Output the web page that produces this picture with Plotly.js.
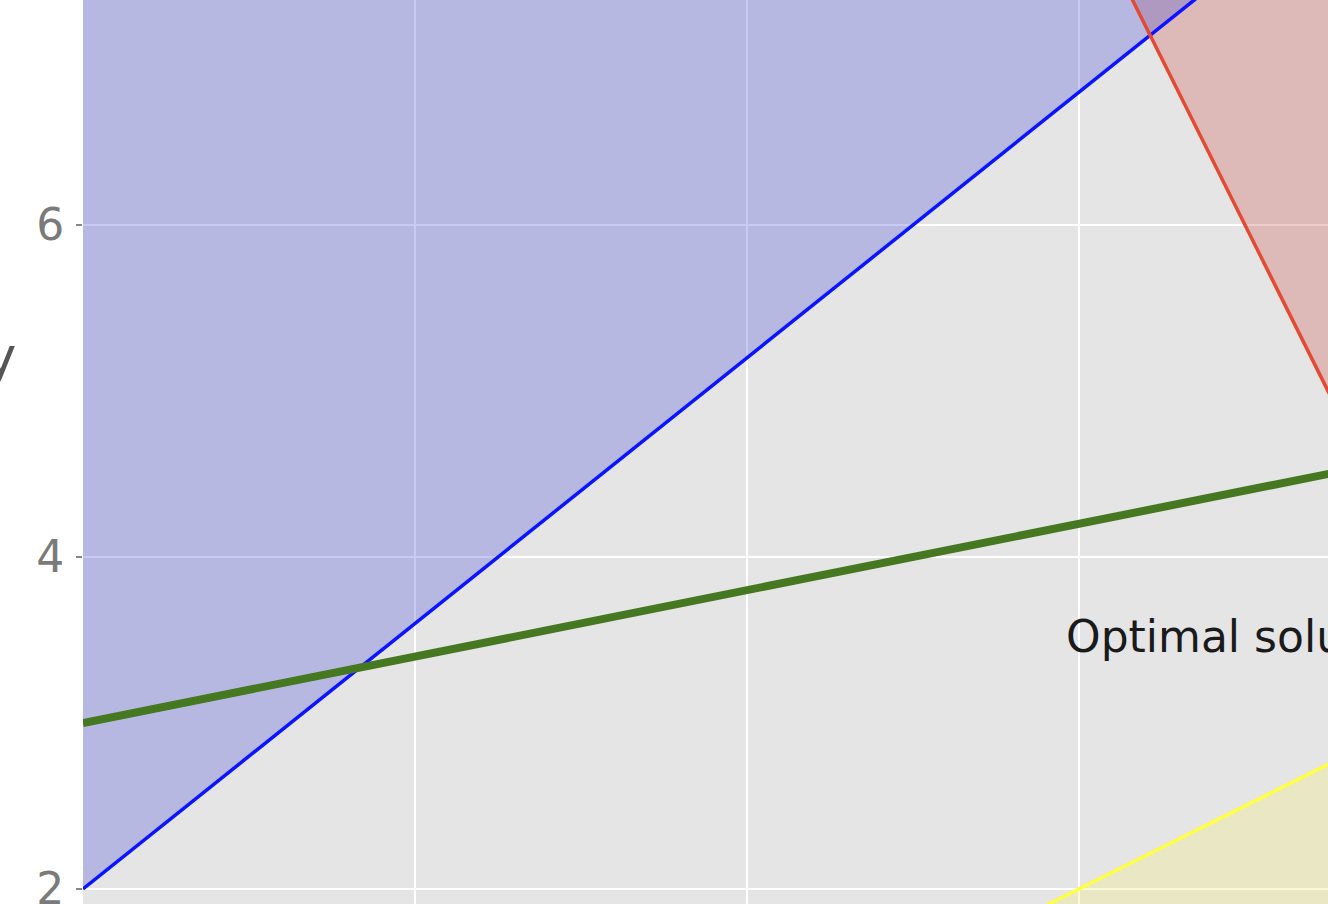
<!DOCTYPE html>
<html>
<head>
<meta charset="utf-8">
<script src="https://cdn.plot.ly/plotly-3.0.1.min.js"></script>
<style>
  html, body { margin: 0; padding: 0; background: #ffffff; }
  #chart { width: 1328px; height: 904px; }
</style>
</head>
<body>
<div id="chart"></div>
<script>
// constraint lines at x = 0 and x = 8
const xEnds = [0, 8];
const blueY = [2, 8.4];
const redY = [20, 4];
const yellowY = [-1, 3];
const greenY = [3, 4.6];
// bounds the shaded regions run to (outside the visible window)
const fillTop = [10, 10];
const fillBottom = [0, 0];

const yTicks = [2, 4, 6];
const xTicks = [0, 2, 4, 6];

const label = { text: 'Optimal solution', x: 5.91, y: 3.52 };

const BG = '#e5e5e5';
const FONT = 'DejaVu Sans, sans-serif';

function edge(y) {
  return {
    type: 'scatter', mode: 'lines', x: xEnds, y: y,
    line: { width: 0 }, hoverinfo: 'skip', showlegend: false
  };
}

function region(y, fillcolor) {
  return {
    type: 'scatter', mode: 'lines', x: xEnds, y: y,
    line: { width: 0 }, fill: 'tonexty', fillcolor: fillcolor,
    hoverinfo: 'skip', showlegend: false
  };
}

function line(y, color, width) {
  return {
    type: 'scatter', mode: 'lines', x: xEnds, y: y,
    line: { color: color, width: width }, showlegend: false
  };
}

const traces = [
  edge(fillTop), region(redY, 'rgba(202,82,76,0.3)'),
  edge(fillTop), region(blueY, 'rgba(72,79,219,0.3)'),
  edge(fillBottom), region(yellowY, 'rgba(246,236,119,0.3)'),
  line(blueY, '#0a14ff', 3.5),
  line(redY, '#e24a33', 3.5),
  line(yellowY, '#ffff44', 3.5),
  line(greenY, '#467821', 8)
];

const layout = {
  width: 1328,
  height: 904,
  margin: { l: 83, r: 0, t: 0, b: 0, pad: 0 },
  paper_bgcolor: '#ffffff',
  plot_bgcolor: BG,
  font: { family: FONT, color: '#555555', size: 44 },
  showlegend: false,
  xaxis: {
    range: [0, 7.5],
    tickvals: xTicks,
    showticklabels: false,
    ticks: '',
    gridcolor: '#ffffff',
    gridwidth: 2,
    zeroline: false,
    showline: false
  },
  yaxis: {
    range: [1.9096, 7.3554],
    tickvals: yTicks,
    ticktext: yTicks.map(String),
    ticks: 'outside',
    ticklen: 6,
    tickwidth: 1.5,
    tickcolor: '#888888',
    ticklabelstandoff: 3,
    ticklabeloverflow: 'allow',
    tickfont: { family: FONT, size: 44, color: '#7a7a7a' },
    gridcolor: '#ffffff',
    gridwidth: 2,
    zeroline: false,
    showline: false
  },
  annotations: [
    {
      text: label.text, x: label.x, y: label.y, xref: 'x', yref: 'y',
      xanchor: 'left', yanchor: 'middle', showarrow: false,
      font: { family: FONT, size: 44, color: '#1a1a1a' }
    },
    {
      text: 'y', x: -83 / 1245, y: 5.21, xref: 'paper', yref: 'y',
      xanchor: 'center', yanchor: 'middle', showarrow: false,
      font: { family: FONT, size: 53, color: '#555555' }
    }
  ]
};

Plotly.newPlot('chart', traces, layout, { displayModeBar: false, staticPlot: true });
</script>
</body>
</html>
